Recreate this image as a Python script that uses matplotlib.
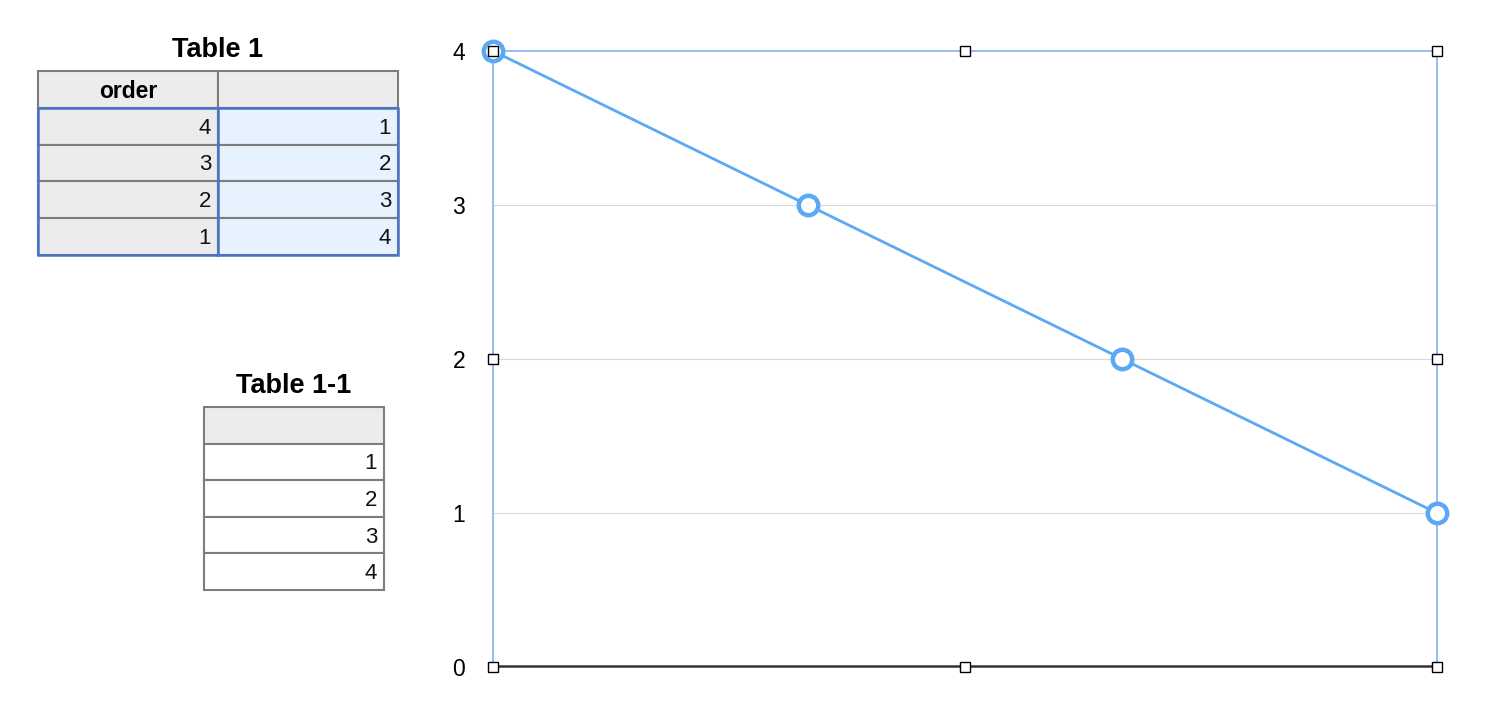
import matplotlib.pyplot as plt
from matplotlib.patches import Rectangle

# chart data
x_pos = [0, 1, 2, 3]
y_vals = [4, 3, 2, 1]
y_ticks = [0, 1, 2, 3, 4]

# table data
t1_title = "Table 1"
t1_header = ["order", ""]
t1_order = [4, 3, 2, 1]
t1_vals = [1, 2, 3, 4]
t2_title = "Table 1-1"
t2_vals = [1, 2, 3, 4]

LINE = "#5aa9f4"
FRAME = "#8db6f7"
GRID = "#d8d8d8"
BORDER = "#7d7d7d"
SEL = "#4a72c8"
HEAD = "#ececec"
BLUE_CELL = "#e6f2fd"

W, H = 1498, 712
fig = plt.figure(figsize=(W / 100, H / 100), dpi=100)
plt.rcParams['font.family'] = ['Liberation Sans', 'DejaVu Sans']

# overlay in pixel coords for the tables
ov = fig.add_axes([0, 0, 1, 1])
ov.set_xlim(0, W)
ov.set_ylim(H, 0)
ov.axis('off')


def draw_table(x0, y0, col_w, row_h, header, cols, fills, title, selected):
    ncol = len(cols)
    nrow = len(cols[0])
    ov.text(x0 + col_w * ncol / 2, y0 - 21, title, ha='center', va='center',
            fontsize=19.5, fontweight='bold')
    for c in range(ncol):
        ov.add_patch(Rectangle((x0 + c * col_w, y0), col_w, row_h,
                               facecolor=HEAD, edgecolor=BORDER, lw=1.5))
        if header[c]:
            ov.text(x0 + c * col_w + col_w / 2, y0 + row_h / 2 + 2, header[c],
                    ha='center', va='center', fontsize=16.5, fontweight='bold')
        for r in range(nrow):
            yy = y0 + row_h * (r + 1)
            ov.add_patch(Rectangle((x0 + c * col_w, yy), col_w, row_h,
                                   facecolor=fills[c], edgecolor=BORDER, lw=1.5))
            ov.text(x0 + (c + 1) * col_w - 7, yy + row_h / 2 + 2, str(cols[c][r]),
                    ha='right', va='center', fontsize=16, color='#111111')
    if selected:
        ov.add_patch(Rectangle((x0, y0 + row_h), col_w * ncol, row_h * nrow,
                               facecolor='none', edgecolor=SEL, lw=1.8, zorder=5))
        for c in range(1, ncol):
            ov.plot([x0 + c * col_w] * 2, [y0 + row_h, y0 + row_h * (nrow + 1)],
                    color=SEL, lw=1.8, zorder=5)


draw_table(38, 71, 180, 36.8, t1_header, [t1_order, t1_vals], [HEAD, BLUE_CELL],
           t1_title, True)
draw_table(204, 407, 180, 36.6, [""], [t2_vals], ["white"], t2_title, False)

# line chart
ax = fig.add_axes([493 / W, 45 / H, 944 / W, 616 / H])
ax.set_xlim(x_pos[0], x_pos[-1])
ax.set_ylim(0, 4)
for v in y_ticks[1:-1]:
    ax.axhline(v, color=GRID, lw=0.8, zorder=1)
ax.axhline(0, color=SEL, lw=1.2, zorder=2)
ax.plot([x_pos[0], x_pos[-1]], [0.008, 0.008], color='#333333', lw=1.8,
        zorder=2, clip_on=False)
ax.plot(x_pos, y_vals, color=LINE, lw=2.0, marker='o', markersize=14,
        markerfacecolor='white', markeredgecolor=LINE, markeredgewidth=3.2,
        zorder=4, clip_on=False)

for s in ax.spines.values():
    s.set_visible(False)
ax.set_xticks([])
ax.set_yticks(y_ticks)
ax.tick_params(axis='y', length=0, pad=20, labelsize=16.5)

# selection frame and handles
ax.plot([0, 0, 1, 1], [0, 1, 1, 0], transform=ax.transAxes, color=FRAME,
        lw=1.3, zorder=3, clip_on=False)
handles = [(0, 1), (0.5, 1), (1, 1), (0, 0.5), (1, 0.5), (0, 0), (0.5, 0), (1, 0)]
for hx, hy in handles:
    ax.plot(hx, hy, transform=ax.transAxes, marker='s', markersize=7.5,
            markerfacecolor='white', markeredgecolor='black', markeredgewidth=1.0,
            zorder=6, clip_on=False)

fig.savefig("out.png", dpi=100)
